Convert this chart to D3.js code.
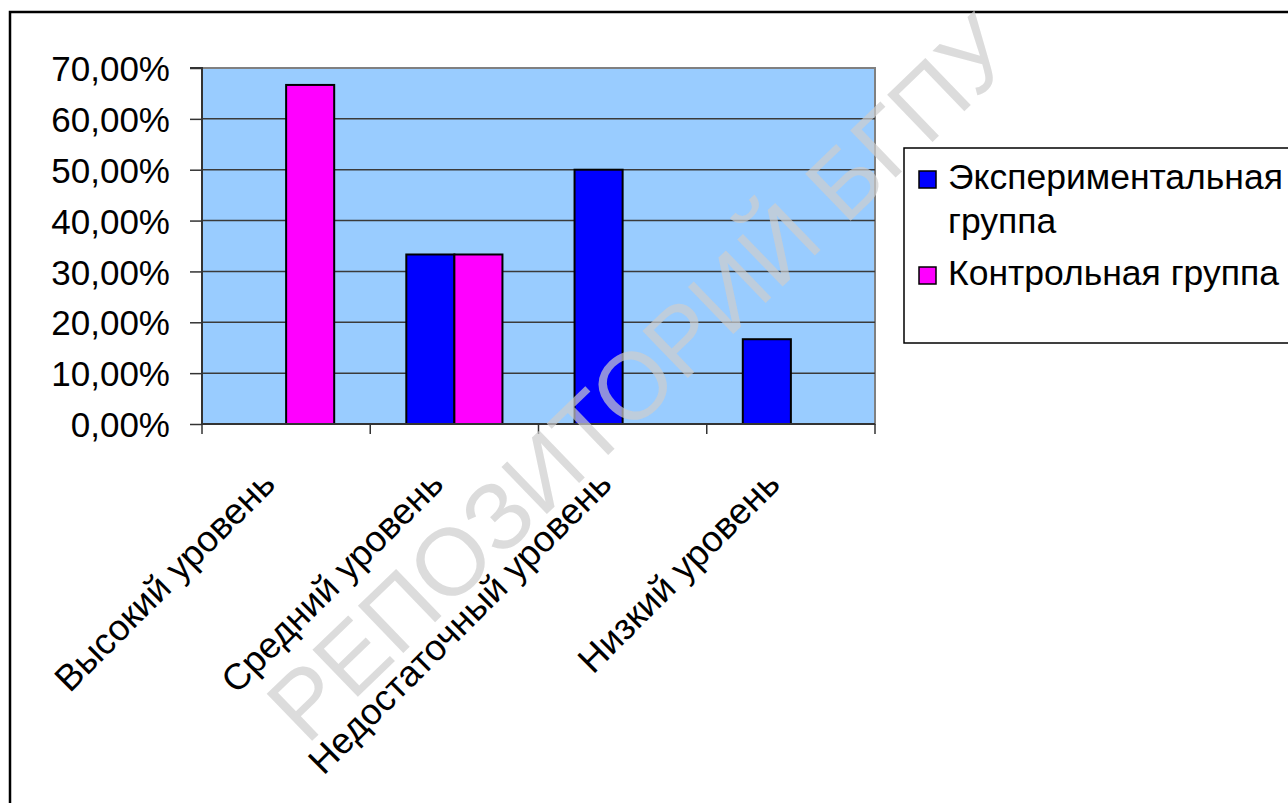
<!DOCTYPE html>
<html><head><meta charset="utf-8">
<script src="https://cdn.jsdelivr.net/npm/d3@7"></script>
<style>body{margin:0;background:#fff}svg{display:block}text{font-family:"Liberation Sans",Arial,sans-serif}</style>
</head><body><svg id="c" width="1288" height="803"></svg>
<script>
const categories = ["Высокий уровень","Средний уровень","Недостаточный уровень","Низкий уровень"];
const seriesNames = ["Экспериментальная группа","Контрольная группа"];
const experimental = [0, 0.3333, 0.5, 0.1667];
const control = [0.6667, 0.3333, 0, 0];
const colors = ["#0000FF","#FF00FF"];
const yTicks = [0,0.1,0.2,0.3,0.4,0.5,0.6,0.7];
const watermark = "РЕПОЗИТОРИЙ БГПУ";

const svg = d3.select("#c");
const L=202,R=875,T=68,B=424;

// outer frame
svg.append("rect").attr("x",10).attr("y",12).attr("width",1320).attr("height",840)
  .attr("fill","#fff").attr("stroke","#000").attr("stroke-width",2.5);

const x0 = d3.scaleBand().domain(categories).range([L,R]).paddingInner(0).paddingOuter(0);
const x1 = d3.scaleBand().domain([0,1]).range([0,x0.bandwidth()]).paddingInner(0).paddingOuter(0.75);
const y = d3.scaleLinear().domain([0,0.7]).range([B,T]);

svg.append("rect").attr("x",L).attr("y",T).attr("width",R-L).attr("height",B-T)
  .attr("fill","#99CCFF").attr("stroke","#808080").attr("stroke-width",2);

// gridlines
svg.append("g").selectAll("line").data(yTicks.slice(1,-1)).join("line")
  .attr("x1",L).attr("x2",R).attr("y1",d=>y(d)).attr("y2",d=>y(d))
  .attr("stroke","#3a3a3a").attr("stroke-width",1.5);

// bars
const series=[experimental,control];
const g = svg.append("g");
categories.forEach((c,i)=>{
  series.forEach((s,j)=>{
    if(s[i]>0){
      g.append("rect").attr("x",x0(c)+x1(j)).attr("y",y(s[i]))
       .attr("width",x1.bandwidth()).attr("height",y(0)-y(s[i]))
       .attr("fill",colors[j]).attr("stroke","#000").attr("stroke-width",2);
    }
  });
});

// y axis
const yAxis = d3.axisLeft(y).tickValues(yTicks).tickSize(12).tickPadding(20)
  .tickFormat(d=>d3.format(".2f")(d*100).replace(".",",")+"%");
const ya = svg.append("g").attr("transform",`translate(${L},0)`).call(yAxis);
ya.select(".domain").attr("stroke","#333").attr("stroke-width",2).attr("d",`M-12,${T}H0V${B}`);
ya.selectAll(".tick line").attr("stroke","#333").attr("stroke-width",1.5);
ya.selectAll(".tick text").attr("font-size",35).attr("fill","#000").attr("font-family","Liberation Sans, Arial").attr("dy","0.36em");

// x axis
const xa = svg.append("g");
xa.append("line").attr("x1",L).attr("x2",R).attr("y1",B).attr("y2",B).attr("stroke","#333").attr("stroke-width",2);
const bounds = categories.map(c=>x0(c)).concat([R]);
xa.selectAll("line.t").data(bounds).join("line").attr("class","t")
  .attr("x1",d=>d).attr("x2",d=>d).attr("y1",B).attr("y2",B+10).attr("stroke","#333").attr("stroke-width",1.5);
xa.selectAll("text").data(categories).join("text")
  .attr("text-anchor","end").attr("font-size",36.5)
  .attr("transform",d=>`translate(${x0(d)+x0.bandwidth()/2-9},${B+62}) rotate(-45)`)
  .text(d=>d);

// legend
const lg = svg.append("g");
lg.append("rect").attr("x",904).attr("y",148).attr("width",500).attr("height",195)
  .attr("fill","#fff").attr("stroke","#000").attr("stroke-width",1.5);
const legendRows=[{i:0,lines:["Экспериментальная","группа"],y:189},{i:1,lines:["Контрольная группа"],y:285}];
legendRows.forEach(r=>{
  lg.append("rect").attr("x",919).attr("y",r.y-18).attr("width",17).attr("height",17)
    .attr("fill",colors[r.i]).attr("stroke","#000").attr("stroke-width",1.5);
  r.lines.forEach((t,k)=>{
    lg.append("text").attr("x",948).attr("y",r.y+k*44).attr("font-size",35.5).text(t);
  });
});

// watermark
svg.append("text").attr("text-anchor","middle").attr("font-size",95)
  .attr("fill","#cdcdcd").attr("fill-opacity",0.7)
  .attr("transform","translate(663,402) rotate(-44)").text(watermark);
</script></body></html>
